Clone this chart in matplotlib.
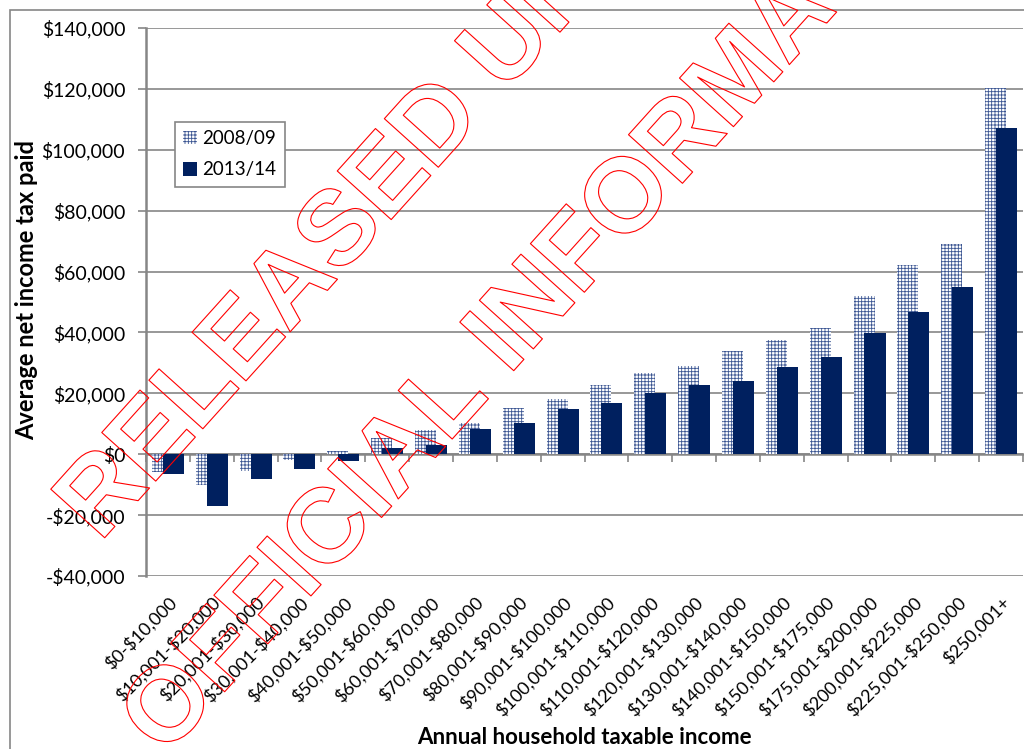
import matplotlib
matplotlib.use("Agg")
import matplotlib.pyplot as plt
import matplotlib.patheffects as pe
from matplotlib.patches import Rectangle
import numpy as np

categories = ["$0-$10,000", "$10,001-$20,000", "$20,001-$30,000", "$30,001-$40,000",
              "$40,001-$50,000", "$50,001-$60,000", "$60,001-$70,000", "$70,001-$80,000",
              "$80,001-$90,000", "$90,001-$100,000", "$100,001-$110,000", "$110,001-$120,000",
              "$120,001-$130,000", "$130,001-$140,000", "$140,001-$150,000", "$150,001-$175,000",
              "$175,001-$200,000", "$200,001-$225,000", "$225,001-$250,000", "$250,001+"]
tax_2008 = [-6000, -10200, -5600, -2000, 1000, 5200, 7900, 10100, 15300, 18200,
            22600, 26700, 29000, 33900, 37500, 41300, 52000, 62200, 69000, 120200]
tax_2013 = [-6500, -17000, -8300, -4700, -2100, 1900, 3000, 8200, 10400, 14800,
            16700, 20100, 22600, 24100, 28600, 31900, 39700, 46800, 54900, 107200]
series_labels = ["2008/09", "2013/14"]
y_ticks = [-40000, -20000, 0, 20000, 40000, 60000, 80000, 100000, 120000, 140000]

FONT = ["Lato", "DejaVu Sans"]
plt.rcParams['font.family'] = FONT
plt.rcParams['hatch.linewidth'] = 0.6


def esc(s):
    return s.replace("$", r"\$")


W, H = 1024, 749
fig = plt.figure(figsize=(W / 100, H / 100), dpi=100)
ax = fig.add_axes([146 / W, 1 - 576 / H, (1023 - 146) / W, (576 - 28) / H])

GRAY = "#868686"
NAVY = "#00205f"

x = np.arange(len(categories))
bw = 0.48
ax.bar(x - 0.125, tax_2008, width=bw, facecolor="white", edgecolor="#3b5592",
       hatch="+++++", linewidth=0, label=series_labels[0], zorder=2)
ax.bar(x + 0.125, tax_2013, width=bw, color=NAVY, linewidth=0,
       label=series_labels[1], zorder=3)

ax.set_xlim(-0.5, len(categories) - 0.5)
ax.set_ylim(-40000, 140000)
ax.set_yticks(y_ticks)
ax.set_yticklabels([esc(("-$" if v < 0 else "$") + f"{abs(v):,}") for v in y_ticks],
                   fontsize=14)
ax.yaxis.grid(True, color=GRAY, linewidth=1.2, zorder=0)
ax.set_axisbelow(True)
ax.tick_params(axis='y', length=6, width=1.2, color=GRAY, pad=9)

for s in ["top", "right", "bottom"]:
    ax.spines[s].set_visible(False)
ax.spines["left"].set_color(GRAY)
ax.spines["left"].set_linewidth(1.8)

# category labels at bottom of plot area
ax.set_xticks(x)
ax.set_xticklabels([esc(c) for c in categories], rotation=45, ha="right", va="top",
                   rotation_mode="anchor", fontsize=13)
ax.tick_params(axis='x', length=0, pad=13)

# horizontal axis line at zero with tick marks at category boundaries
sec = ax.secondary_xaxis(40000 / 180000)
sec.set_xticks(np.arange(len(categories) + 1) - 0.5)
sec.set_xticklabels([])
sec.tick_params(axis='x', length=6, width=1.2, color=GRAY, direction='out')
sec.spines["bottom"].set_color(GRAY)
sec.spines["bottom"].set_linewidth(1.8)

ax.set_ylabel("Average net income tax paid", fontsize=17, fontweight="bold")
ax.yaxis.set_label_coords((38 - 146) / 877, (576 - 290) / 548)
fig.text(584 / W, 1 - 738 / H, "Annual household taxable income", fontsize=16,
         fontweight="bold", ha="center", va="center")

leg = ax.legend(loc="upper left", bbox_to_anchor=((175 - 146) / 877, (576 - 122) / 548),
                borderaxespad=0, fontsize=13.5, frameon=True, fancybox=False, edgecolor=GRAY,
                framealpha=1, handlelength=0.7, handleheight=0.7, handletextpad=0.3,
                borderpad=0.45, labelspacing=0.75)
leg.get_frame().set_linewidth(1.2)

# outer chart border
fig.patches.append(Rectangle((10 / W, -0.1), 1.2, 1 - 10 / H + 0.1, transform=fig.transFigure,
                             fill=False, edgecolor=GRAY, linewidth=1.2))

# watermark
wm_font = ["Liberation Sans", "DejaVu Sans"]
fx = [pe.Stroke(linewidth=0.8, foreground="red")]
fig.text(100 / W, 1 - 543 / H, "RELEASED UNDER THE", fontsize=76, family=wm_font,
         fontweight="bold", color="none", rotation=48, rotation_mode="anchor",
         ha="left", va="baseline", path_effects=fx, zorder=10)
fig.text(165 / W, 1 - 758 / H, "OFFICIAL INFORMATION ACT", fontsize=76, family=wm_font,
         fontweight="bold", color="none", rotation=48, rotation_mode="anchor",
         ha="left", va="baseline", path_effects=fx, zorder=10)

fig.savefig("out.png", dpi=100)
